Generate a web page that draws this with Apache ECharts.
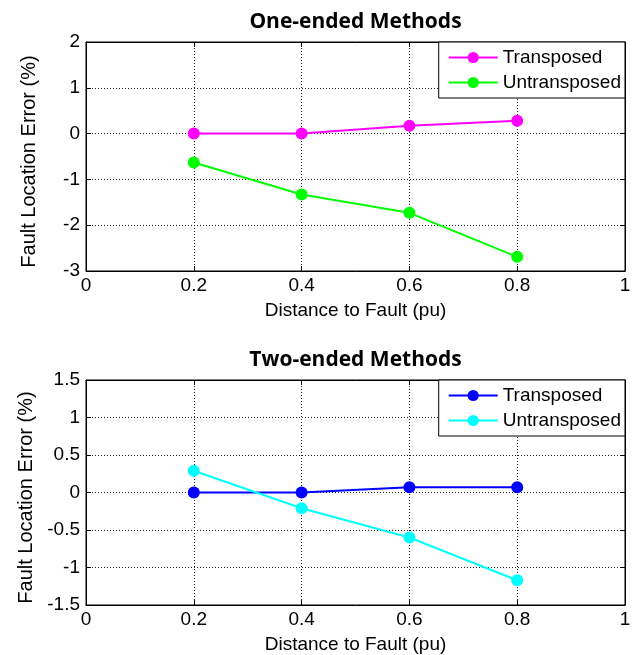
<!DOCTYPE html>
<html>
<head>
<meta charset="utf-8">
<script src="https://cdn.jsdelivr.net/npm/echarts@6/dist/echarts.min.js"></script>
<style>
  html, body { margin: 0; padding: 0; background: #fff; }
  #chart { width: 638px; height: 655px; }
</style>
</head>
<body>
<div id="chart"></div>
<script>
// Fault distance (pu) at which each case was simulated
const distances = [0.2, 0.4, 0.6, 0.8];

// Fault location error (%), one-ended methods
const oneEndedTransposed = [0, 0, 0.17, 0.28];
const oneEndedUntransposed = [-0.63, -1.33, -1.73, -2.69];

// Fault location error (%), two-ended methods
const twoEndedTransposed = [0, 0, 0.07, 0.07];
const twoEndedUntransposed = [0.29, -0.21, -0.60, -1.17];

const titles = ['One-ended Methods', 'Two-ended Methods'];
const seriesNames = ['Transposed', 'Untransposed'];
const xLabel = 'Distance to Fault (pu)';
const yLabel = 'Fault Location Error (%)';

const topColors = ['#ff00ff', '#00ff00'];
const bottomColors = ['#0000ff', '#00ffff'];

const FONT = '"Liberation Sans", Arial, sans-serif';
const grids = [
  { left: 86, top: 42, right: 13, height: 229 },
  { left: 86, top: 380, right: 13, height: 227 }
];
const yRanges = [
  { min: -3, max: 2, interval: 1 },
  { min: -1.5, max: 1.5, interval: 0.5 }
];

function pairs(ys) {
  return distances.map((x, i) => [x, ys[i]]);
}

const dotted = { color: '#222', width: 1, type: [1, 2] };
const tickStyle = { show: true, inside: true, length: 5, lineStyle: { color: '#000', width: 1 } };

const xAxes = [];
const yAxes = [];
grids.forEach((g, i) => {
  xAxes.push({
    type: 'value', gridIndex: i, min: 0, max: 1, interval: 0.2, position: 'bottom',
    name: xLabel, nameLocation: 'middle', nameGap: 30,
    nameTextStyle: { fontFamily: FONT, fontSize: 19, color: '#000' },
    axisLine: { show: true, onZero: false, lineStyle: { color: '#000', width: 1 } },
    axisTick: tickStyle,
    axisLabel: { fontFamily: FONT, fontSize: 19, color: '#000', margin: 5 },
    splitLine: { show: true, lineStyle: dotted }
  });
  // top edge ticks of the box
  xAxes.push({
    type: 'value', gridIndex: i, min: 0, max: 1, interval: 0.2, position: 'top',
    axisLine: { show: true, onZero: false, lineStyle: { color: '#000', width: 1 } },
    axisTick: tickStyle, axisLabel: { show: false }, splitLine: { show: false }
  });
  yAxes.push({
    type: 'value', gridIndex: i, min: yRanges[i].min, max: yRanges[i].max, interval: yRanges[i].interval,
    position: 'left',
    name: yLabel, nameLocation: 'middle', nameGap: 47,
    nameTextStyle: { fontFamily: FONT, fontSize: 20, color: '#000', padding: [0, 10, 0, 0] },
    axisLine: { show: true, onZero: false, lineStyle: { color: '#000', width: 1 } },
    axisTick: tickStyle,
    axisLabel: { fontFamily: FONT, fontSize: 19, color: '#000', margin: 6 },
    splitLine: { show: true, lineStyle: dotted }
  });
  // right edge ticks of the box
  yAxes.push({
    type: 'value', gridIndex: i, min: yRanges[i].min, max: yRanges[i].max, interval: yRanges[i].interval,
    position: 'right',
    axisLine: { show: true, onZero: false, lineStyle: { color: '#000', width: 1 } },
    axisTick: tickStyle, axisLabel: { show: false }, splitLine: { show: false }
  });
});

function lineSeries(name, ys, color, gi) {
  return {
    type: 'line', name: name, data: pairs(ys),
    xAxisIndex: gi * 2, yAxisIndex: gi * 2,
    symbol: 'circle', symbolSize: 12, showSymbol: true,
    lineStyle: { color: color, width: 2 },
    itemStyle: { color: color },
    emphasis: { disabled: true },
    animation: false
  };
}

function legendFor(gi, colors) {
  return {
    orient: 'vertical', right: 13, top: grids[gi].top,
    backgroundColor: '#fff', borderColor: '#000', borderWidth: 1,
    padding: [6, 4, 6, 9], itemGap: 6, itemWidth: 49, itemHeight: 14,
    textStyle: { fontFamily: FONT, fontSize: 19, color: '#000' },
    selectedMode: false,
    data: seriesNames.map((n, k) => ({
      name: n,
      itemStyle: { color: colors[k] },
      lineStyle: { color: colors[k], width: 2 }
    }))
  };
}

const option = {
  backgroundColor: '#fff',
  animation: false,
  title: titles.map((t, i) => ({
    text: t, left: 355.5, textAlign: 'center', top: i === 0 ? 12 : 350, padding: 0,
    textStyle: { fontFamily: '"Open Sans", Lato, sans-serif', fontWeight: 'bold', fontSize: 21, color: '#000' }
  })),
  grid: grids.map(g => Object.assign({ show: true, borderColor: '#000', borderWidth: 1, backgroundColor: '#fff' }, g)),
  xAxis: xAxes,
  yAxis: yAxes,
  legend: [legendFor(0, topColors), legendFor(1, bottomColors)],
  series: [
    lineSeries(seriesNames[0], oneEndedTransposed, topColors[0], 0),
    lineSeries(seriesNames[1], oneEndedUntransposed, topColors[1], 0),
    lineSeries(seriesNames[0], twoEndedTransposed, bottomColors[0], 1),
    lineSeries(seriesNames[1], twoEndedUntransposed, bottomColors[1], 1)
  ]
};

const chart = echarts.init(document.getElementById('chart'), null, { renderer: 'canvas' });
chart.setOption(option);
</script>
</body>
</html>
